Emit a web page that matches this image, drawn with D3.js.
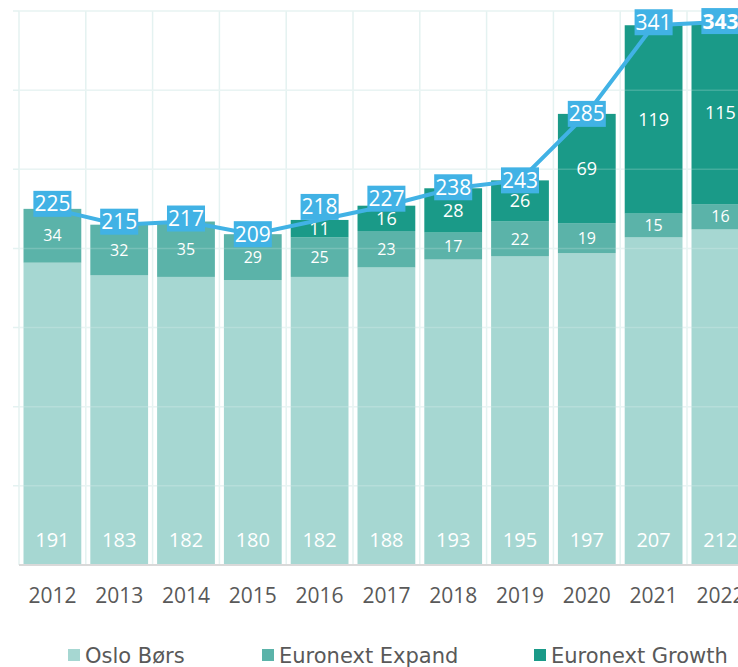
<!DOCTYPE html>
<html>
<head>
<meta charset="utf-8">
<script src="https://cdn.jsdelivr.net/npm/d3@7"></script>
<style>
    body { margin: 0; background: #ffffff; }
    svg { display: block; font-family: "Open Sans", sans-serif; }
</style>
</head>
<body>
<svg id="chart"></svg>
<script>
"use strict";

const width = 738;
const height = 667;

// data
const years = ["2012", "2013", "2014", "2015", "2016", "2017", "2018", "2019", "2020", "2021", "2022"];
const oslo_bors = [191, 183, 182, 180, 182, 188, 193, 195, 197, 207, 212];
const euronext_expand = [34, 32, 35, 29, 25, 23, 17, 22, 19, 15, 16];
const euronext_growth = [0, 0, 0, 0, 11, 16, 28, 26, 69, 119, 115];
const totals = [225, 215, 217, 209, 218, 227, 238, 243, 285, 341, 343];
const series_names = ["Oslo Børs", "Euronext Expand", "Euronext Growth"];
const y_ticks = [0, 50, 100, 150, 200, 250, 300, 350];

// label nudges (px) for the total boxes
const total_label_shift = [-5, -3, -3, 0, -13, -7, -1, 0, 0, -3, -1];

const colors = ["#a6d7d2", "#5bb3a9", "#1a9a88"];
const line_color = "#41b2e5";
const grid_color = "#e4f2f1";
const text_color = "#595959";

const plot_left = 19;
const band_width = 66.8;
const y_bottom = 565;
const y_top = 11;

const svg = d3.select("#chart")
    .attr("width", width)
    .attr("height", height);

const x = d3.scaleBand()
    .domain(years)
    .range([plot_left, plot_left + band_width * years.length])
    .paddingInner(0.135)
    .paddingOuter(0.0675);

const y = d3.scaleLinear()
    .domain([0, 350])
    .range([y_bottom, y_top]);

const rows = years.map((yr, i) => ({
    year: yr,
    oslo: oslo_bors[i],
    expand: euronext_expand[i],
    growth: euronext_growth[i],
    total: totals[i]
}));

const stack = d3.stack().keys(["oslo", "expand", "growth"])(rows);

// grid under the bars
const grid = svg.append("g");
grid.selectAll("line.h")
    .data(y_ticks.slice(1))
    .enter()
    .append("line")
    .attr("x1", plot_left - 6)
    .attr("x2", width)
    .attr("y1", d => y(d))
    .attr("y2", d => y(d))
    .attr("stroke", grid_color)
    .attr("stroke-width", 1.5);

grid.selectAll("line.v")
    .data(d3.range(years.length + 1))
    .enter()
    .append("line")
    .attr("x1", d => plot_left + d * band_width)
    .attr("x2", d => plot_left + d * band_width)
    .attr("y1", y_top)
    .attr("y2", y_bottom)
    .attr("stroke", grid_color)
    .attr("stroke-width", 1.5);

// bars
const layers = svg.append("g")
    .selectAll("g")
    .data(stack)
    .enter()
    .append("g")
    .attr("fill", (d, i) => colors[i]);

layers.selectAll("rect")
    .data(d => d.filter(s => s[1] > s[0]))
    .enter()
    .append("rect")
    .attr("x", d => x(d.data.year))
    .attr("width", x.bandwidth())
    .attr("y", d => y(d[1]))
    .attr("height", d => y(d[0]) - y(d[1]));

// faint grid over the bars
svg.append("g")
    .selectAll("line")
    .data(y_ticks.slice(1))
    .enter()
    .append("line")
    .attr("x1", plot_left)
    .attr("x2", width)
    .attr("y1", d => y(d))
    .attr("y2", d => y(d))
    .attr("stroke", "#ffffff")
    .attr("stroke-opacity", 0.18)
    .attr("stroke-width", 1.5);

// axis line
svg.append("line")
    .attr("x1", plot_left)
    .attr("x2", width)
    .attr("y1", y(0))
    .attr("y2", y(0))
    .attr("stroke", "#d9d9d9")
    .attr("stroke-width", 2);

// segment labels
const cx = d => x(d.data.year) + x.bandwidth() / 2;

svg.append("g")
    .selectAll("text")
    .data(stack[0])
    .enter()
    .append("text")
    .attr("x", cx)
    .attr("y", y(0) - 18)
    .attr("text-anchor", "middle")
    .attr("fill", "#ffffff")
    .style("font-size", "20px")
    .text(d => d.data.oslo);

svg.append("g")
    .selectAll("text")
    .data(stack[1])
    .enter()
    .append("text")
    .attr("x", cx)
    .attr("y", d => (y(d[0]) + y(d[1])) / 2)
    .attr("dy", "0.35em")
    .attr("text-anchor", "middle")
    .attr("fill", "#ffffff")
    .style("font-size", "16px")
    .text(d => d.data.expand);

svg.append("g")
    .selectAll("text")
    .data(stack[2].filter(d => d.data.growth > 0))
    .enter()
    .append("text")
    .attr("x", cx)
    .attr("y", d => (y(d[0]) + y(d[1])) / 2)
    .attr("dy", "0.35em")
    .attr("text-anchor", "middle")
    .attr("fill", "#ffffff")
    .style("font-size", "18px")
    .text(d => d.data.growth);

// total line
const line = d3.line()
    .x(d => x(d.year) + x.bandwidth() / 2)
    .y(d => y(d.total));

svg.append("path")
    .datum(rows)
    .attr("d", line)
    .attr("fill", "none")
    .attr("stroke", line_color)
    .attr("stroke-width", 4);

// total labels in boxes
const total_labels = svg.append("g")
    .selectAll("g")
    .data(rows)
    .enter()
    .append("g")
    .attr("transform", (d, i) => `translate(${x(d.year) + x.bandwidth() / 2}, ${y(d.total) + total_label_shift[i]})`);

total_labels.append("rect").attr("fill", line_color);

total_labels.append("text")
    .attr("text-anchor", "middle")
    .attr("dy", "0.36em")
    .attr("fill", "#ffffff")
    .style("font-size", "21px")
    .style("font-weight", (d, i) => i === rows.length - 1 ? "bold" : "normal")
    .text(d => d.total);

total_labels.each(function () {
    const g = d3.select(this);
    const box = g.select("text").node().getBBox();
    g.select("rect")
        .attr("x", box.x - 1)
        .attr("y", -13)
        .attr("width", box.width + 2)
        .attr("height", 26);
});

// x axis labels
const x_axis = svg.append("g")
    .attr("transform", `translate(0, ${y(0)})`)
    .call(d3.axisBottom(x).tickSize(0).tickPadding(23));

x_axis.select(".domain").remove();
x_axis.selectAll("text")
    .attr("fill", text_color)
    .style("font-family", "'Open Sans', sans-serif")
    .style("font-size", "21px");

// legend
const legend_x = [68, 262, 534];

const legend = svg.append("g")
    .selectAll("g")
    .data(series_names)
    .enter()
    .append("g")
    .attr("transform", (d, i) => `translate(${legend_x[i]}, 655)`);

legend.append("rect")
    .attr("x", 0)
    .attr("y", -6)
    .attr("width", 12)
    .attr("height", 12)
    .attr("fill", (d, i) => colors[i]);

legend.append("text")
    .attr("x", 17)
    .attr("y", 7.5)
    .attr("fill", text_color)
    .style("font-family", "'DejaVu Sans', sans-serif")
    .style("font-size", "21px")
    .text(d => d);
</script>
</body>
</html>
